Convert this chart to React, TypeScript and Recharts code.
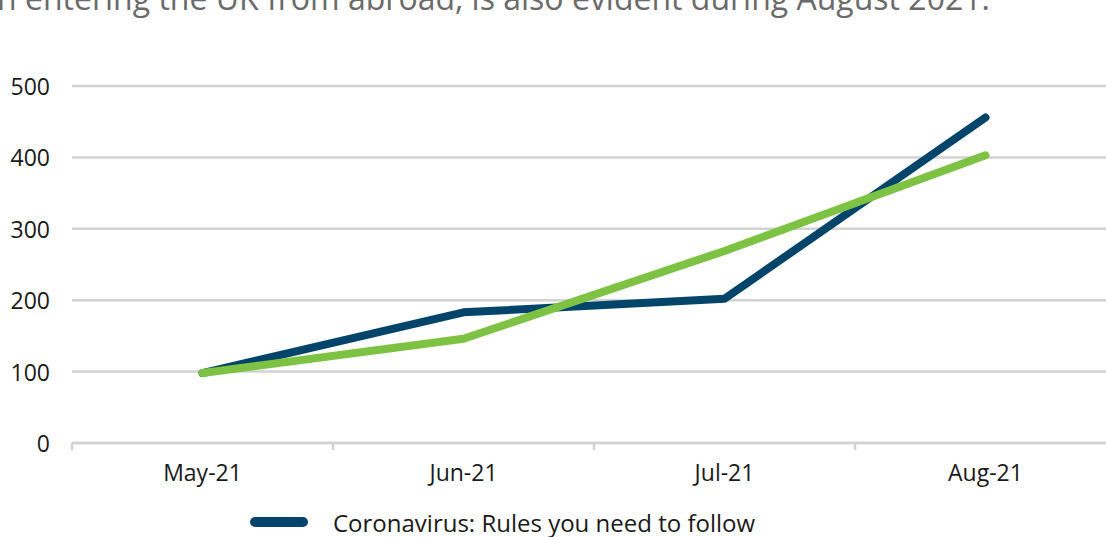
import React from "react";
import { LineChart, Line, XAxis, YAxis, CartesianGrid, Legend } from "recharts";

// Monthly index values
const months = ["May-21", "Jun-21", "Jul-21", "Aug-21"];
const rulesSeries = [98, 183, 202, 456];
const travelSeries = [98, 146, 269, 403];
const yTicks = [0, 100, 200, 300, 400, 500];

const data = months.map((m, i) => ({
  month: m,
  rules: rulesSeries[i],
  travel: travelSeries[i],
}));

const FONT = "'Open Sans', sans-serif";
const BLUE = "#03446a";
const GREEN = "#7dc242";
const GRID = "#d2d2d2";
const TEXT = "#1a1a1a";

const CHART_W = 1150;
const CHART_H = 537;
const PLOT_LEFT = 72;
const PLOT_RIGHT = 1116;
const BAND = (PLOT_RIGHT - PLOT_LEFT) / months.length;

const XTick = (props: any) => {
  const { x, payload } = props;
  const axisY = 443;
  const left = x - BAND / 2;
  return (
    <g>
      <line x1={left} x2={left} y1={axisY} y2={axisY + 7} stroke={GRID} strokeWidth={2.5} />
      <text
        x={x}
        y={axisY + 29}
        textAnchor="middle"
        dominantBaseline="central"
        fontFamily={FONT}
        fontSize={23}
        fill={TEXT}
      >
        {payload.value}
      </text>
    </g>
  );
};

const YTick = (props: any) => {
  const { y, payload } = props;
  return (
    <text
      x={50}
      y={y}
      textAnchor="end"
      dominantBaseline="central"
      fontFamily={FONT}
      fontSize={23}
      fill={TEXT}
    >
      {payload.value}
    </text>
  );
};

const LegendContent = () => (
  <div
    style={{
      height: 30,
      display: "flex",
      alignItems: "center",
      paddingLeft: 250,
      fontFamily: FONT,
      fontSize: 24,
      color: TEXT,
    }}
  >
    <span
      style={{
        display: "inline-block",
        width: 58,
        height: 10,
        borderRadius: 5,
        background: BLUE,
        marginRight: 25,
      }}
    />
    <span>Coronavirus: Rules you need to follow</span>
  </div>
);

export default function App() {
  return (
    <div
      style={{
        position: "absolute",
        left: 0,
        top: 0,
        width: 1106,
        height: 537,
        overflow: "hidden",
        background: "#fff",
      }}
    >
      <div
        style={{
          position: "absolute",
          left: -3,
          top: -17,
          fontFamily: FONT,
          fontSize: 32,
          lineHeight: "30px",
          color: "#6a6a6a",
          whiteSpace: "nowrap",
        }}
      >
        n entering the UK from abroad, is also evident during August 2021.
      </div>
      <LineChart
        width={CHART_W}
        height={CHART_H}
        data={data}
        margin={{ top: 86, right: CHART_W - PLOT_RIGHT, bottom: 0, left: 0 }}
      >
        <CartesianGrid horizontal vertical={false} stroke={GRID} strokeWidth={2.5} />
        <XAxis
          dataKey="month"
          height={64}
          axisLine={{ stroke: GRID, strokeWidth: 2.5 }}
          tickLine={false}
          tick={<XTick />}
          interval={0}
          padding={{ left: BAND / 2, right: BAND / 2 }}
        />
        <YAxis
          width={PLOT_LEFT}
          domain={[0, 500]}
          ticks={yTicks}
          axisLine={false}
          tickLine={false}
          tick={<YTick />}
          interval={0}
        />
        <Legend verticalAlign="bottom" content={<LegendContent />} />
        <Line
          dataKey="rules"
          stroke={BLUE}
          strokeWidth={8}
          strokeLinecap="round"
          strokeLinejoin="round"
          dot={false}
          activeDot={false}
          isAnimationActive={false}
        />
        <Line
          dataKey="travel"
          stroke={GREEN}
          strokeWidth={8}
          strokeLinecap="round"
          strokeLinejoin="round"
          dot={false}
          activeDot={false}
          legendType="none"
          isAnimationActive={false}
        />
      </LineChart>
    </div>
  );
}
